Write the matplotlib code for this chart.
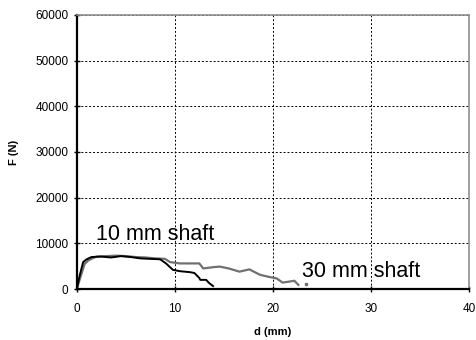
import matplotlib
matplotlib.use('Agg')
from matplotlib import pyplot as plt

plt.rcParams['font.family'] = ['Liberation Sans', 'DejaVu Sans']

# 10 mm shaft (black)
d10 = [0, 0.3, 0.65, 1.0, 1.5, 2.5, 3.5, 4.5, 5.5, 6.5, 7.5, 8.5, 9.1, 9.8, 10.5, 11.5, 12.0, 12.5, 12.6, 13.2, 13.5, 13.9]
f10 = [0, 3000, 5900, 6500, 7000, 7100, 6900, 7200, 7000, 6700, 6600, 6500, 5600, 4200, 3900, 3700, 3500, 2400, 2000, 2000, 1300, 650]
# 30 mm shaft (grey)
d30 = [0, 0.4, 0.8, 1.2, 2.0, 3.0, 4.0, 5.0, 6.0, 7.0, 8.0, 9.0, 9.5, 10.5, 12.5, 12.9, 14.0, 14.6, 15.5, 16.6, 17.6, 18.7, 19.5, 20.4, 21.0, 22.2, 22.6]
f30 = [0, 2800, 5500, 6300, 7100, 7200, 7300, 7200, 7000, 6900, 6700, 6600, 5900, 5600, 5600, 4500, 4800, 4900, 4500, 3800, 4300, 3100, 2700, 2300, 1400, 1800, 900]

fig = plt.figure(figsize=(4.77, 3.4), dpi=100)
ax = fig.add_axes([0.161, 0.15, 0.822, 0.806])

ax.plot(d30, f30, color='#707070', lw=1.6)
ax.plot(d10, f10, color='black', lw=1.4)
ax.plot([23.4], [1000], marker='s', ms=1.5, color='#707070', ls='none')

ax.set_xlim(0, 40)
ax.set_ylim(0, 60000)
ax.set_xticks([0, 10, 20, 30, 40])
ax.set_yticks(range(0, 60001, 10000))
ax.grid(True, color='black', ls=(0, (2, 2)), lw=0.7)
ax.tick_params(labelsize=8.5, length=4, width=1, direction='inout')
ax.tick_params(axis='x', pad=8)
ax.tick_params(axis='y', pad=4)
for s in ['top', 'right']:
    ax.spines[s].set_color('#909090')
    ax.spines[s].set_linewidth(1.2)
for s in ['left', 'bottom']:
    ax.spines[s].set_linewidth(1.6)

ax.set_xlabel('d (mm)', fontsize=8, fontweight='bold', labelpad=9)
ax.set_ylabel('F (N)', fontsize=8, fontweight='bold', labelpad=12)

ax.text(2.0, 12000, '10 mm shaft', fontsize=15.5, va='center', ha='left')
ax.text(23.0, 3900, '30 mm shaft', fontsize=15.5, va='center', ha='left')

fig.savefig('out.png', dpi=100)
